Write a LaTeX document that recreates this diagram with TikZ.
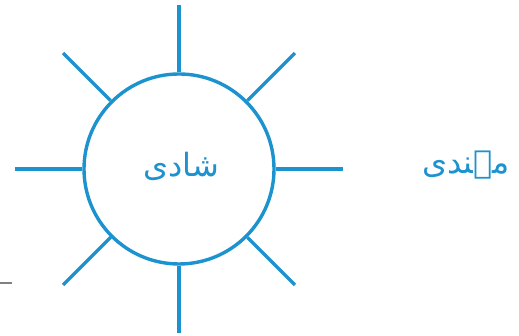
\documentclass[tikz,border=0pt]{standalone}
\usepackage{fontspec}
\newfontfamily\urdufont[Script=Arabic]{DejaVu Sans}
\TeXXeTstate=1
\usetikzlibrary{calc}
\definecolor{rayblue}{RGB}{28,146,206}
\tikzset{
  hubnode/.style={draw=rayblue, circle, line width=3.4pt, minimum size=190pt, inner sep=0pt},
  rayline/.style={draw=rayblue, line width=3.4pt},
  wordlabel/.style={text=rayblue, font=\urdufont\fontsize{32}{36}\selectfont, inner sep=0pt}
}

\begin{document}
\begin{tikzpicture}[x=1pt, y=1pt]
  \useasboundingbox (0,0) rectangle (519,336);
  \node[hubnode] (hub) at (179,167) {};
  \node[wordlabel] (shadi) at (181,170) {\beginR شادی\endR};
  \node[wordlabel] (mehndi) at (466,171) {\beginR مہندی\endR};
  \foreach \a in {0,45,...,315} {
    \coordinate (tip\a) at ($(hub.center)+(\a:164)$);
    \draw[rayline] (hub.\a) -- (tip\a);
  }
  % scan mark, bottom left
  \draw[gray, line width=2pt] (0,53) -- (12,53);
\end{tikzpicture}
\end{document}
